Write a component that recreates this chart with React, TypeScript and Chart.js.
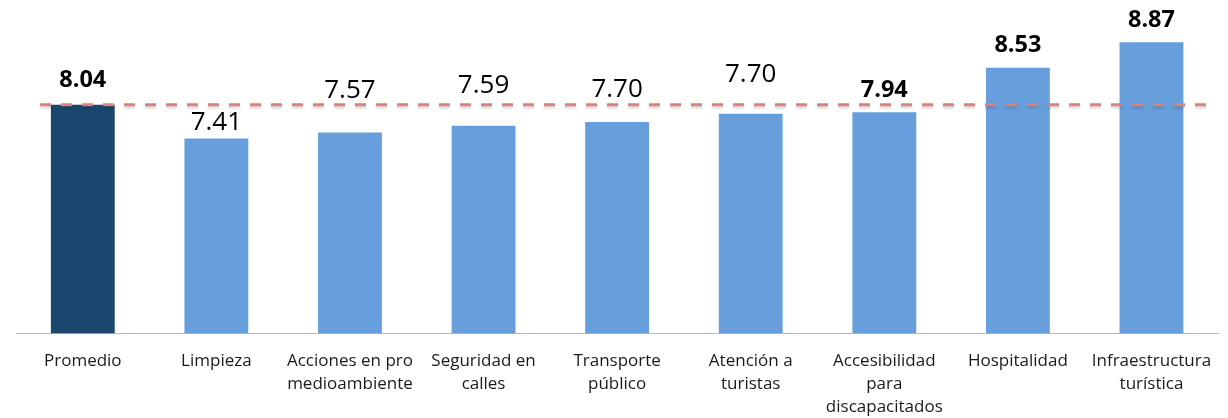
import React, { useEffect, useRef } from "react";
import { Chart, registerables } from "chart.js";

Chart.register(...registerables);

const categories: (string | string[])[] = [
  "Promedio",
  "Limpieza",
  ["Acciones en pro", "medioambiente"],
  ["Seguridad en", "calles"],
  ["Transporte", "público"],
  ["Atención a", "turistas"],
  ["Accesibilidad", "para", "discapacitados"],
  "Hospitalidad",
  ["Infraestructura", "turística"],
];
// bar heights (axis starts at 5)
const barValues: number[] = [8.04, 7.59, 7.67, 7.76, 7.81, 7.92, 7.94, 8.53, 8.87];
// value labels as printed above the bars
const valueLabels: string[] = ["8.04", "7.41", "7.57", "7.59", "7.70", "7.70", "7.94", "8.53", "8.87"];
const boldLabels: boolean[] = [true, false, false, false, false, false, true, true, true];
const averageValue = 8.04;
const axisMin = 5;
const axisMax = 9.3;

// label placement above each bar (px), style only
const labelOffsets: number[] = [26, 18, 44, 42, 34, 41, 24, 24, 24];

const FONT = "'Open Sans', 'DejaVu Sans', sans-serif";

const valueLabelPlugin = {
  id: "valueLabels",
  afterDatasetsDraw(chart: any) {
    const ctx = chart.ctx;
    const meta = chart.getDatasetMeta(0);
    ctx.save();
    ctx.textAlign = "center";
    ctx.textBaseline = "alphabetic";
    ctx.fillStyle = "#000000";
    meta.data.forEach((bar: any, i: number) => {
      const bold = boldLabels[i];
      const size = bold ? 23.5 : 26;
      ctx.font = `${bold ? "bold " : ""}${size}px ${FONT}`;
      const center = bar.y - labelOffsets[i];
      ctx.fillText(valueLabels[i], bar.x, center + 0.357 * size);
    });
    ctx.restore();
  },
};

const avgLinePlugin = {
  id: "avgLine",
  afterDatasetsDraw(chart: any) {
    const ctx = chart.ctx;
    const y = chart.scales.y.getPixelForValue(averageValue);
    const { left, right } = chart.chartArea;
    ctx.save();
    ctx.strokeStyle = "#d9837f";
    ctx.lineWidth = 3;
    ctx.setLineDash([11, 10]);
    ctx.shadowColor = "rgba(0,0,0,0.18)";
    ctx.shadowOffsetY = 2;
    ctx.shadowBlur = 3;
    ctx.beginPath();
    ctx.moveTo(left + 24, y);
    ctx.lineTo(right - 7, y);
    ctx.stroke();
    ctx.restore();
  },
};

export default function App() {
  const canvasRef = useRef<HTMLCanvasElement | null>(null);

  useEffect(() => {
    if (!canvasRef.current) return;
    const chart = new Chart(canvasRef.current, {
      type: "bar",
      data: {
        labels: categories,
        datasets: [
          {
            data: barValues,
            backgroundColor: barValues.map((_, i) => (i === 0 ? "#1b476e" : "#669fdc")),
            borderWidth: 0,
            categoryPercentage: 1,
            barPercentage: 0.478,
          },
        ],
      },
      options: {
        responsive: false,
        animation: false,
        layout: { padding: { left: 16, right: 6, top: 10, bottom: 0 } },
        plugins: {
          legend: { display: false },
          tooltip: { enabled: false },
        },
        scales: {
          y: {
            display: false,
            min: axisMin,
            max: axisMax,
          },
          x: {
            grid: { display: false, drawTicks: false },
            border: { display: true, color: "#b8b8b8", width: 1 },
            ticks: {
              padding: 16.5,
              color: "#1a1a1a",
              font: { family: FONT, size: 17, lineHeight: 1.35 },
              maxRotation: 0,
              autoSkip: false,
            },
          },
        },
      },
      plugins: [avgLinePlugin, valueLabelPlugin],
    });
    return () => chart.destroy();
  }, []);

  return (
    <div
      style={{
        position: "fixed",
        left: 0,
        top: 0,
        width: 1228,
        height: 418,
        overflow: "hidden",
        background: "#ffffff",
      }}
    >
      <canvas ref={canvasRef} width={1228} height={435} style={{ display: "block" }} />
    </div>
  );
}
